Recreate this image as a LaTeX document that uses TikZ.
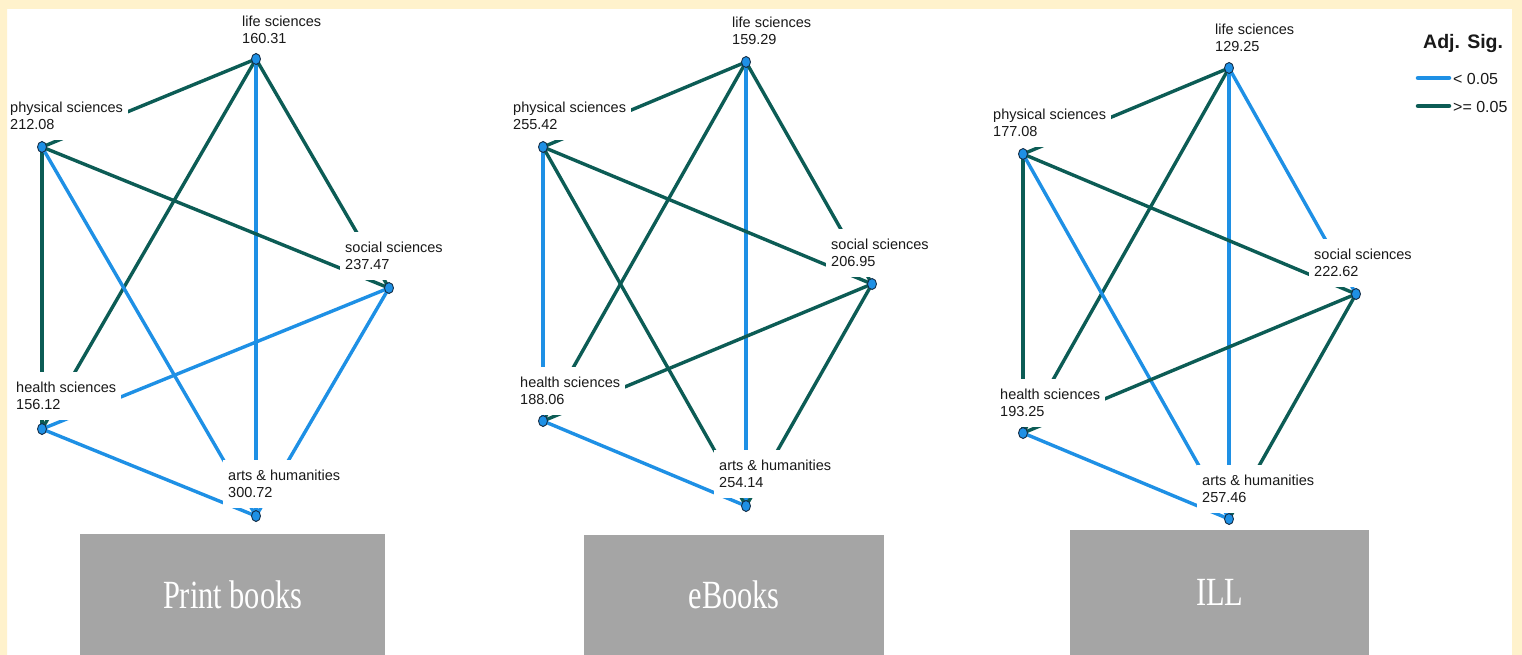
\documentclass[tikz,border=0pt]{standalone}
\usepackage{fontspec}
\usetikzlibrary{shapes.geometric}
\newfontfamily\lsans{Liberation Sans}
\newfontfamily\lserifc[FakeStretch=0.76]{Liberation Serif}
\definecolor{sigblue}{RGB}{30,144,229}
\definecolor{nsgreen}{RGB}{12,92,85}
\definecolor{dotline}{RGB}{20,45,70}
\definecolor{frameyellow}{RGB}{255,242,204}
\definecolor{boxgray}{RGB}{165,165,165}
\pgfdeclarelayer{bg}\pgfdeclarelayer{edges}\pgfdeclarelayer{front}
\pgfsetlayers{bg,edges,main,front}
\begin{document}
\begin{tikzpicture}[x=1pt,y=-1pt,
 dot/.style={ellipse,minimum width=9pt,minimum height=11pt,inner sep=0pt,fill=sigblue,draw=dotline,line width=0.9pt},
 lab/.style={fill=white,align=left,inner xsep=5pt,inner ysep=10pt,anchor=south west,font=\lsans\fontsize{14.5}{17.5}\selectfont,text=black!90},
 sig/.style={draw=sigblue,line width=3.4pt},
 nsig/.style={draw=nsgreen,line width=3.4pt},
 catbox/.style={fill=boxgray,inner sep=0pt,anchor=north west,text=white,font=\lserifc\fontsize{40}{40}\selectfont},
 legline/.style={line width=4.5pt,line cap=round},
 legtext/.style={anchor=west,inner sep=0pt,font=\lsans\fontsize{16}{16}\selectfont,text=black!90}
 ]
\useasboundingbox (0,0) rectangle (1522,655);
\begin{pgfonlayer}{bg}
\fill[white] (0,0) rectangle (1522,655);
\end{pgfonlayer}
\begin{pgfonlayer}{front}
\fill[frameyellow,even odd rule] (0,0) rectangle (1522,655) (7,9) rectangle (1512,660);
\end{pgfonlayer}

% ---------- Panel 1: Print books ----------
\node[lab] (l1life) at (237,54) {life sciences\\160.31};
\node[lab] (l1phys) at (5,140) {physical sciences\\212.08};
\node[lab] (l1soc) at (340,280) {social sciences\\237.47};
\node[lab] (l1hlth) at (11,420) {health sciences\\156.12};
\node[lab] (l1arts) at (223,508) {arts \& humanities\\300.72};
\node[dot] (p1life) at (256,59) {};
\node[dot] (p1phys) at (42,147) {};
\node[dot] (p1soc) at (389,288) {};
\node[dot] (p1hlth) at (42,429) {};
\node[dot] (p1arts) at (256,516) {};

% ---------- Panel 2: eBooks ----------
\node[lab] (l2life) at (727,55) {life sciences\\159.29};
\node[lab] (l2phys) at (508,140) {physical sciences\\255.42};
\node[lab] (l2soc) at (826,277) {social sciences\\206.95};
\node[lab] (l2hlth) at (515,415) {health sciences\\188.06};
\node[lab] (l2arts) at (714,498) {arts \& humanities\\254.14};
\node[dot] (p2life) at (746,62) {};
\node[dot] (p2phys) at (543,147) {};
\node[dot] (p2soc) at (872,284) {};
\node[dot] (p2hlth) at (543,421) {};
\node[dot] (p2arts) at (746,506) {};

% ---------- Panel 3: ILL ----------
\node[lab] (l3life) at (1210,62) {life sciences\\129.25};
\node[lab] (l3phys) at (988,147) {physical sciences\\177.08};
\node[lab] (l3soc) at (1309,287) {social sciences\\222.62};
\node[lab] (l3hlth) at (995,427) {health sciences\\193.25};
\node[lab] (l3arts) at (1197,513) {arts \& humanities\\257.46};
\node[dot] (p3life) at (1229,68) {};
\node[dot] (p3phys) at (1023,154) {};
\node[dot] (p3soc) at (1356,294) {};
\node[dot] (p3hlth) at (1023,433) {};
\node[dot] (p3arts) at (1229,519) {};

\begin{pgfonlayer}{edges}
% panel 1
\draw[nsig] (p1life.center) -- (p1phys.center);
\draw[nsig] (p1life.center) -- (p1hlth.center);
\draw[sig]  (p1life.center) -- (p1arts.center);
\draw[nsig] (p1life.center) -- (p1soc.center);
\draw[nsig] (p1phys.center) -- (p1hlth.center);
\draw[nsig] (p1phys.center) -- (p1soc.center);
\draw[sig]  (p1phys.center) -- (p1arts.center);
\draw[sig]  (p1hlth.center) -- (p1soc.center);
\draw[sig]  (p1hlth.center) -- (p1arts.center);
\draw[sig]  (p1soc.center) -- (p1arts.center);
% panel 2
\draw[nsig] (p2life.center) -- (p2phys.center);
\draw[nsig] (p2life.center) -- (p2hlth.center);
\draw[sig]  (p2life.center) -- (p2arts.center);
\draw[nsig] (p2life.center) -- (p2soc.center);
\draw[sig]  (p2phys.center) -- (p2hlth.center);
\draw[nsig] (p2phys.center) -- (p2soc.center);
\draw[nsig] (p2phys.center) -- (p2arts.center);
\draw[nsig] (p2hlth.center) -- (p2soc.center);
\draw[sig]  (p2hlth.center) -- (p2arts.center);
\draw[nsig] (p2soc.center) -- (p2arts.center);
% panel 3
\draw[nsig] (p3life.center) -- (p3phys.center);
\draw[nsig] (p3life.center) -- (p3hlth.center);
\draw[sig]  (p3life.center) -- (p3arts.center);
\draw[sig]  (p3life.center) -- (p3soc.center);
\draw[nsig] (p3phys.center) -- (p3hlth.center);
\draw[nsig] (p3phys.center) -- (p3soc.center);
\draw[sig]  (p3phys.center) -- (p3arts.center);
\draw[nsig] (p3hlth.center) -- (p3soc.center);
\draw[sig]  (p3hlth.center) -- (p3arts.center);
\draw[nsig] (p3soc.center) -- (p3arts.center);
\end{pgfonlayer}

% ---------- category boxes ----------
\node[catbox,minimum width=305pt,minimum height=121pt] (boxprint) at (80,534) {Print books};
\node[catbox,minimum width=300pt,minimum height=120pt] (boxebook) at (584,535) {eBooks};
\node[catbox,minimum width=299pt,minimum height=125pt] (boxill) at (1070,530) {ILL};

% ---------- legend ----------
\node[anchor=base west,inner sep=0pt,font=\lsans\bfseries\fontsize{19.5}{19.5}\selectfont,text=black!90] (legtitle) at (1423,49) {Adj. Sig.};
\coordinate (lgas) at (1418,78);
\coordinate (lgae) at (1449,78);
\coordinate (lgbs) at (1418,106);
\coordinate (lgbe) at (1449,106);
\draw[legline,sigblue] (lgas) -- (lgae);
\draw[legline,nsgreen] (lgbs) -- (lgbe);
\node[legtext] (legsig) at (1453,79) {< 0.05};
\node[legtext] (legns) at (1453,107) {>= 0.05};
\end{tikzpicture}
\end{document}
